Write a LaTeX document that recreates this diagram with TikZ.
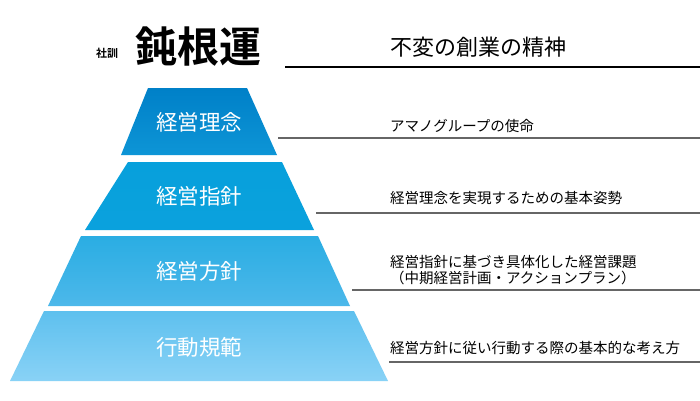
\documentclass[tikz,border=0pt]{standalone}
\usepackage{fontspec}
\setmainfont{Noto Sans CJK JP}
\newfontfamily\cjkb{Noto Sans CJK JP Bold}
\begin{document}
\begin{tikzpicture}[x=1pt,y=-1pt,
  lbl/.style={text=white,font=\fontsize{21.5}{21.5}\selectfont},
  desc/.style={anchor=west,font=\fontsize{14.5}{16.5}\selectfont,align=left,inner sep=0pt},
  rule/.style={line width=1.3pt,draw=black!60}]
\useasboundingbox (0,0) rectangle (700,400);
\fill[white] (0,0) rectangle (700,400);
\definecolor{c0}{HTML}{0080C8}
\definecolor{c1}{HTML}{0D95D6}
\definecolor{c2}{HTML}{07A0DC}
\definecolor{c3}{HTML}{2AADE3}
\definecolor{c4}{HTML}{4DB8EA}
\definecolor{c5}{HTML}{5EC0EE}
\definecolor{c6}{HTML}{89D2F6}
\shade[top color=c0,bottom color=c1] (148,88) -- (247,88) -- (277,155) -- (121,155) -- cycle;
\shade[top color=c2,bottom color=c2!90!c3] (128,162) -- (282,162) -- (314,230) -- (85,230) -- cycle;
\shade[top color=c3,bottom color=c4] (81,236) -- (318,236) -- (350,306) -- (48,306) -- cycle;
\shade[top color=c5,bottom color=c6] (44,311) -- (354,311) -- (388,381) -- (10,381) -- cycle;
\node[lbl] (t1) at (199,122) {経営理念};
\node[lbl] (t2) at (199,196) {経営指針};
\node[lbl] (t3) at (199,271) {経営方針};
\node[lbl] (t4) at (199,347) {行動規範};
\node[font=\fontsize{11}{11}\selectfont\cjkb] (h0) at (107,53) {社訓};
\node[font=\fontsize{42}{42}\selectfont\cjkb] (h1) at (198,47) {鈍根運};
\node[anchor=west,inner sep=0pt,font=\fontsize{22}{22}\selectfont] (h2) at (390,47) {不変の創業の精神};
\draw[line width=2pt] (285,67) -- (700,67);
\node[desc] (d1) at (390,126) {アマノグループの使命};
\draw[rule] (278,138) -- (700,138);
\node[desc] (d2) at (390,198) {経営理念を実現するための基本姿勢};
\draw[rule] (316,213) -- (700,213);
\node[desc] (d3) at (390,270) {経営指針に基づき具体化した経営課題\\（中期経営計画・アクションプラン）};
\draw[rule] (352,290) -- (700,290);
\node[desc] (d4) at (390,348) {経営方針に従い行動する際の基本的な考え方};
\draw[rule] (389,362) -- (700,362);
\end{tikzpicture}
\end{document}
